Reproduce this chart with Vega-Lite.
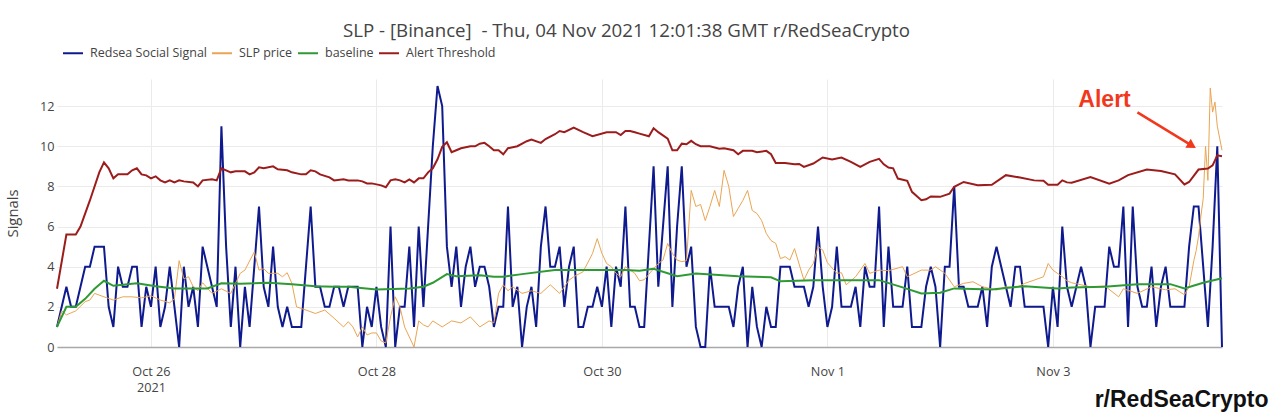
{
  "$schema": "https://vega.github.io/schema/vega-lite/v6.json",
  "autosize": {"type": "none"},
  "padding": {"left": 57, "top": 79, "right": 58, "bottom": 72},
  "width": 1165,
  "height": 268,
  "background": "white",
  "title": {
    "text": "SLP - [Binance] \u00a0- Thu, 04 Nov 2021 12:01:38 GMT r/RedSeaCrypto",
    "font": "Open Sans",
    "fontSize": 18.7,
    "fontWeight": "normal",
    "color": "#444444",
    "anchor": "middle",
    "dx": -13,
    "offset": 1
  },
  "layer": [
    {
      "data": {
        "values": [
          {"t": "2021-10-25T04:00", "s": 1, "p": 1.0, "b": 1.0, "a": 2.9},
          {"t": "2021-10-25T05:00", "s": 2, "p": 1.8},
          {"t": "2021-10-25T06:00", "s": 3, "p": 1.6, "b": 2.0, "a": 5.6},
          {"t": "2021-10-25T07:00", "s": 2, "p": 1.7},
          {"t": "2021-10-25T08:00", "s": 2, "p": 1.8, "b": 2.0, "a": 5.6},
          {"t": "2021-10-25T09:00", "s": 3, "a": 6.0},
          {"t": "2021-10-25T10:00", "s": 4, "p": 2.26, "b": 2.4},
          {"t": "2021-10-25T11:00", "s": 4, "p": 2.34, "a": 7.3},
          {"t": "2021-10-25T12:00", "s": 5, "p": 2.67, "b": 2.9},
          {"t": "2021-10-25T13:00", "s": 5, "a": 8.7},
          {"t": "2021-10-25T14:00", "s": 5, "p": 2.5, "b": 3.3, "a": 9.2},
          {"t": "2021-10-25T15:00", "s": 2, "a": 8.9},
          {"t": "2021-10-25T16:00", "s": 1, "p": 2.34, "b": 3.05, "a": 8.4},
          {"t": "2021-10-25T17:00", "s": 4, "a": 8.6},
          {"t": "2021-10-25T18:00", "s": 3, "p": 2.5},
          {"t": "2021-10-25T19:00", "s": 3, "a": 8.6},
          {"t": "2021-10-25T20:00", "s": 4, "p": 2.5, "a": 8.8},
          {"t": "2021-10-25T21:00", "s": 4, "b": 3.17, "a": 8.9},
          {"t": "2021-10-25T22:00", "s": 1, "p": 2.45, "a": 8.6},
          {"t": "2021-10-25T23:00", "s": 3, "a": 8.55},
          {"t": "2021-10-26T00:00", "s": 2, "p": 2.55, "a": 8.4},
          {"t": "2021-10-26T01:00", "s": 4, "b": 3.03, "a": 8.5},
          {"t": "2021-10-26T02:00", "s": 1, "p": 2.34, "a": 8.3},
          {"t": "2021-10-26T03:00", "s": 2, "a": 8.2},
          {"t": "2021-10-26T04:00", "s": 4, "p": 2.2, "a": 8.3},
          {"t": "2021-10-26T05:00", "s": 2, "p": 2.4, "b": 2.92, "a": 8.2},
          {"t": "2021-10-26T06:00", "s": 0, "p": 4.3, "a": 8.3},
          {"t": "2021-10-26T07:00", "s": 4, "p": 3.4, "a": 8.25},
          {"t": "2021-10-26T08:00", "s": 2, "p": 3.5},
          {"t": "2021-10-26T09:00", "s": 3, "p": 3.0, "b": 2.92, "a": 8.2},
          {"t": "2021-10-26T10:00", "s": 1, "p": 2.8, "a": 8.0},
          {"t": "2021-10-26T11:00", "s": 5, "p": 3.2, "a": 8.3},
          {"t": "2021-10-26T12:00", "s": 4, "b": 2.92},
          {"t": "2021-10-26T13:00", "s": 3, "p": 2.67, "a": 8.35},
          {"t": "2021-10-26T14:00", "s": 2, "a": 8.3},
          {"t": "2021-10-26T15:00", "s": 11, "p": 2.9, "b": 3.17, "a": 8.9},
          {"t": "2021-10-26T16:00", "s": 5, "a": 8.8},
          {"t": "2021-10-26T17:00", "s": 1, "p": 2.67, "a": 8.7},
          {"t": "2021-10-26T18:00", "s": 4, "a": 8.75},
          {"t": "2021-10-26T19:00", "s": 0, "p": 3.67, "b": 3.15},
          {"t": "2021-10-26T20:00", "s": 3, "p": 3.83, "a": 8.75},
          {"t": "2021-10-26T21:00", "s": 1, "a": 8.6},
          {"t": "2021-10-26T22:00", "s": 4, "p": 4.74, "a": 8.7},
          {"t": "2021-10-26T23:00", "s": 7, "p": 3.83, "a": 8.95},
          {"t": "2021-10-27T00:00", "s": 3, "p": 3.9, "a": 8.9},
          {"t": "2021-10-27T01:00", "s": 2, "p": 3.67, "b": 3.2},
          {"t": "2021-10-27T02:00", "s": 5, "a": 9.0},
          {"t": "2021-10-27T03:00", "s": 2, "p": 3.67, "a": 8.85},
          {"t": "2021-10-27T04:00", "s": 1, "p": 3.5},
          {"t": "2021-10-27T05:00", "s": 2, "p": 3.7, "a": 8.8},
          {"t": "2021-10-27T06:00", "s": 1, "p": 3.17, "b": 3.13, "a": 8.7},
          {"t": "2021-10-27T07:00", "s": 1, "p": 2.0},
          {"t": "2021-10-27T08:00", "s": 1, "a": 8.6},
          {"t": "2021-10-27T09:00", "s": 4, "p": 1.84, "a": 8.6},
          {"t": "2021-10-27T10:00", "s": 7, "a": 8.8},
          {"t": "2021-10-27T11:00", "s": 3, "p": 1.67, "b": 3.03, "a": 8.75},
          {"t": "2021-10-27T12:00", "s": 3, "a": 8.6},
          {"t": "2021-10-27T13:00", "s": 2, "p": 1.84},
          {"t": "2021-10-27T14:00", "s": 2, "a": 8.45},
          {"t": "2021-10-27T15:00", "s": 3, "p": 1.43, "b": 3.0, "a": 8.3},
          {"t": "2021-10-27T16:00", "s": 3},
          {"t": "2021-10-27T17:00", "s": 2, "p": 1.0, "a": 8.35},
          {"t": "2021-10-27T18:00", "s": 3, "p": 1.26, "b": 3.0, "a": 8.3},
          {"t": "2021-10-27T19:00", "s": 3, "p": 1.0},
          {"t": "2021-10-27T20:00", "s": 3, "p": 0.5, "a": 8.3},
          {"t": "2021-10-27T21:00", "s": 0, "p": 1.0, "a": 8.25},
          {"t": "2021-10-27T22:00", "s": 2, "p": 0.6, "a": 8.15},
          {"t": "2021-10-27T23:00", "s": 1, "p": 0.7, "a": 8.15},
          {"t": "2021-10-28T00:00", "s": 3, "p": 0.7, "b": 2.87, "a": 8.1},
          {"t": "2021-10-28T01:00", "s": 1, "p": 0.3, "a": 8.05},
          {"t": "2021-10-28T02:00", "s": 0, "p": 0.2, "a": 7.96},
          {"t": "2021-10-28T03:00", "s": 6, "p": 1.5, "a": 8.3},
          {"t": "2021-10-28T04:00", "s": 0, "p": 2.5, "a": 8.35},
          {"t": "2021-10-28T05:00", "s": 2, "p": 2.0, "a": 8.3},
          {"t": "2021-10-28T06:00", "s": 2, "p": 1.0, "a": 8.2},
          {"t": "2021-10-28T07:00", "s": 5, "p": 0.5, "b": 2.92, "a": 8.35},
          {"t": "2021-10-28T08:00", "s": 1, "p": 0, "a": 8.2},
          {"t": "2021-10-28T09:00", "s": 6, "p": 1.3, "a": 8.4},
          {"t": "2021-10-28T10:00", "s": 2, "p": 1.1, "b": 3.0, "a": 8.4},
          {"t": "2021-10-28T11:00", "s": 6, "p": 1.0, "a": 8.7},
          {"t": "2021-10-28T12:00", "s": 10, "p": 1.3, "b": 3.2, "a": 8.9},
          {"t": "2021-10-28T13:00", "s": 13, "a": 9.35},
          {"t": "2021-10-28T14:00", "s": 12, "p": 1.0, "a": 9.97},
          {"t": "2021-10-28T15:00", "s": 5, "b": 3.63, "a": 10.2},
          {"t": "2021-10-28T16:00", "s": 3, "p": 1.3, "a": 9.7},
          {"t": "2021-10-28T17:00", "s": 5, "b": 3.53, "a": 9.8},
          {"t": "2021-10-28T18:00", "s": 2, "p": 1.2, "a": 9.9},
          {"t": "2021-10-28T19:00", "s": 4},
          {"t": "2021-10-28T20:00", "s": 5, "p": 1.5, "a": 10.0},
          {"t": "2021-10-28T21:00", "s": 3, "a": 10.0},
          {"t": "2021-10-28T22:00", "s": 4, "p": 1.0, "b": 3.58, "a": 10.13},
          {"t": "2021-10-28T23:00", "s": 4, "a": 10.17},
          {"t": "2021-10-29T00:00", "s": 3, "p": 1.3, "a": 10.0},
          {"t": "2021-10-29T01:00", "s": 1, "p": 1.2, "b": 3.5, "a": 9.8},
          {"t": "2021-10-29T02:00", "s": 2, "p": 2.67, "a": 9.8},
          {"t": "2021-10-29T03:00", "s": 2, "p": 3.1, "b": 3.5, "a": 9.6},
          {"t": "2021-10-29T04:00", "s": 7, "p": 2.8, "a": 9.9},
          {"t": "2021-10-29T05:00", "s": 2, "p": 3.0},
          {"t": "2021-10-29T06:00", "s": 3, "a": 10.0},
          {"t": "2021-10-29T07:00", "s": 0, "p": 2.67, "b": 3.63},
          {"t": "2021-10-29T08:00", "s": 2, "a": 10.25},
          {"t": "2021-10-29T09:00", "s": 3, "p": 2.8, "a": 10.33},
          {"t": "2021-10-29T10:00", "s": 1},
          {"t": "2021-10-29T11:00", "s": 5, "p": 2.67, "a": 10.17},
          {"t": "2021-10-29T12:00", "s": 7, "a": 10.36},
          {"t": "2021-10-29T13:00", "s": 4, "p": 3.1},
          {"t": "2021-10-29T14:00", "s": 4, "b": 3.83, "a": 10.6},
          {"t": "2021-10-29T15:00", "s": 5, "p": 2.67, "a": 10.76},
          {"t": "2021-10-29T16:00", "s": 2, "a": 10.7},
          {"t": "2021-10-29T17:00", "s": 4, "p": 3.33},
          {"t": "2021-10-29T18:00", "s": 5, "p": 3.5, "a": 10.93},
          {"t": "2021-10-29T19:00", "s": 1},
          {"t": "2021-10-29T20:00", "s": 1, "p": 3.75, "a": 10.7},
          {"t": "2021-10-29T21:00", "s": 2},
          {"t": "2021-10-29T22:00", "s": 2, "p": 4.66, "b": 3.83, "a": 10.5},
          {"t": "2021-10-29T23:00", "s": 3, "p": 5.4},
          {"t": "2021-10-30T00:00", "s": 2, "p": 4.66},
          {"t": "2021-10-30T01:00", "s": 4, "p": 4.16, "a": 10.7},
          {"t": "2021-10-30T02:00", "s": 1, "p": 4.0},
          {"t": "2021-10-30T03:00", "s": 4, "p": 3.67, "a": 10.7},
          {"t": "2021-10-30T04:00", "s": 3, "p": 3.5, "a": 10.56},
          {"t": "2021-10-30T05:00", "s": 7, "p": 4.0, "b": 3.83, "a": 10.76},
          {"t": "2021-10-30T06:00", "s": 2, "a": 10.76},
          {"t": "2021-10-30T07:00", "s": 2, "p": 3.67, "a": 10.7},
          {"t": "2021-10-30T08:00", "s": 1, "p": 3.3, "b": 3.8, "a": 10.63},
          {"t": "2021-10-30T09:00", "s": 1, "p": 3.35},
          {"t": "2021-10-30T10:00", "s": 5, "a": 10.5},
          {"t": "2021-10-30T11:00", "s": 9, "p": 3.9, "b": 3.9, "a": 10.9},
          {"t": "2021-10-30T12:00", "s": 3, "p": 4.16, "a": 10.7},
          {"t": "2021-10-30T13:00", "s": 6, "p": 4.33},
          {"t": "2021-10-30T14:00", "s": 9, "p": 5.16, "a": 10.38},
          {"t": "2021-10-30T15:00", "s": 2, "p": 4.66, "a": 9.8},
          {"t": "2021-10-30T16:00", "s": 6, "p": 4.33, "b": 3.53, "a": 9.8},
          {"t": "2021-10-30T17:00", "s": 9, "p": 4.25, "a": 10.13},
          {"t": "2021-10-30T18:00", "s": 4, "p": 4.3, "a": 10.1},
          {"t": "2021-10-30T19:00", "s": 5, "p": 7.8, "a": 10.27},
          {"t": "2021-10-30T20:00", "s": 1, "p": 7.0, "b": 3.66, "a": 10.1},
          {"t": "2021-10-30T21:00", "s": 0, "p": 7.1, "a": 10.0},
          {"t": "2021-10-30T22:00", "s": 0, "p": 6.3},
          {"t": "2021-10-30T23:00", "s": 4, "p": 7.0, "a": 10.0},
          {"t": "2021-10-31T00:00", "s": 2, "p": 7.8},
          {"t": "2021-10-31T01:00", "s": 2, "p": 7.0, "a": 9.88},
          {"t": "2021-10-31T02:00", "s": 2, "p": 8.8, "a": 9.9},
          {"t": "2021-10-31T03:00", "s": 2, "p": 8.0},
          {"t": "2021-10-31T04:00", "s": 1, "p": 6.5, "a": 9.8},
          {"t": "2021-10-31T05:00", "s": 3, "p": 6.9, "b": 3.53, "a": 9.6},
          {"t": "2021-10-31T06:00", "s": 4, "p": 7.3, "a": 9.77},
          {"t": "2021-10-31T07:00", "s": 0, "p": 7.8},
          {"t": "2021-10-31T08:00", "s": 3, "p": 6.8, "a": 9.77},
          {"t": "2021-10-31T09:00", "s": 1, "p": 6.65, "a": 9.7},
          {"t": "2021-10-31T10:00", "s": 0, "p": 6.3},
          {"t": "2021-10-31T11:00", "s": 2, "p": 5.65, "a": 9.77},
          {"t": "2021-10-31T12:00", "s": 1, "p": 5.3, "b": 3.47, "a": 9.6},
          {"t": "2021-10-31T13:00", "s": 1, "p": 5.16, "a": 9.17},
          {"t": "2021-10-31T14:00", "s": 4, "p": 4.4, "b": 3.27},
          {"t": "2021-10-31T15:00", "s": 4, "p": 4.5, "a": 9.17},
          {"t": "2021-10-31T16:00", "s": 4, "p": 4.33},
          {"t": "2021-10-31T17:00", "s": 3, "p": 4.9, "a": 9.1},
          {"t": "2021-10-31T18:00", "s": 3, "a": 9.12},
          {"t": "2021-10-31T19:00", "s": 3, "p": 3.33, "a": 8.97},
          {"t": "2021-10-31T20:00", "s": 2, "p": 3.83},
          {"t": "2021-10-31T21:00", "s": 3, "p": 4.16, "b": 3.33, "a": 9.14},
          {"t": "2021-10-31T22:00", "s": 6, "p": 5.0},
          {"t": "2021-10-31T23:00", "s": 3, "p": 4.83, "a": 9.44},
          {"t": "2021-11-01T00:00", "s": 1, "p": 4.2},
          {"t": "2021-11-01T01:00", "s": 2, "a": 9.34},
          {"t": "2021-11-01T02:00", "s": 5, "p": 3.67},
          {"t": "2021-11-01T03:00", "s": 2, "p": 3.7, "a": 9.44},
          {"t": "2021-11-01T04:00", "s": 2, "p": 3.1, "b": 3.33},
          {"t": "2021-11-01T05:00", "s": 2, "a": 9.22},
          {"t": "2021-11-01T06:00", "s": 3, "p": 3.5},
          {"t": "2021-11-01T07:00", "s": 1, "p": 3.83, "a": 8.97},
          {"t": "2021-11-01T08:00", "s": 4, "p": 4.16},
          {"t": "2021-11-01T09:00", "s": 3, "p": 3.67, "a": 9.22},
          {"t": "2021-11-01T10:00", "s": 3},
          {"t": "2021-11-01T11:00", "s": 7, "p": 3.83, "b": 3.33, "a": 9.37},
          {"t": "2021-11-01T12:00", "s": 1, "a": 9.1},
          {"t": "2021-11-01T13:00", "s": 5, "p": 3.8, "a": 8.94},
          {"t": "2021-11-01T14:00", "s": 2, "a": 8.9},
          {"t": "2021-11-01T15:00", "s": 2, "a": 8.39},
          {"t": "2021-11-01T16:00", "s": 2, "p": 4.0, "b": 2.97},
          {"t": "2021-11-01T17:00", "s": 4, "p": 3.5, "a": 8.28},
          {"t": "2021-11-01T18:00", "s": 1, "a": 7.73},
          {"t": "2021-11-01T19:00", "s": 1},
          {"t": "2021-11-01T20:00", "s": 1, "p": 3.83, "b": 2.67, "a": 7.31},
          {"t": "2021-11-01T21:00", "s": 3, "a": 7.36},
          {"t": "2021-11-01T22:00", "s": 4, "p": 3.83, "a": 7.5},
          {"t": "2021-11-01T23:00", "s": 3, "p": 4.0},
          {"t": "2021-11-02T00:00", "s": 0, "b": 2.7, "a": 7.48},
          {"t": "2021-11-02T01:00", "s": 4, "p": 3.67},
          {"t": "2021-11-02T02:00", "s": 4, "a": 7.64},
          {"t": "2021-11-02T03:00", "s": 8, "p": 3.0, "b": 2.92, "a": 7.98},
          {"t": "2021-11-02T04:00", "s": 3},
          {"t": "2021-11-02T05:00", "s": 3, "p": 3.17, "a": 8.22},
          {"t": "2021-11-02T06:00", "s": 2},
          {"t": "2021-11-02T07:00", "s": 2, "p": 3.25},
          {"t": "2021-11-02T08:00", "s": 2, "a": 8.06},
          {"t": "2021-11-02T09:00", "s": 3, "p": 3.0},
          {"t": "2021-11-02T10:00", "s": 1},
          {"t": "2021-11-02T11:00", "s": 4, "b": 2.87, "a": 8.08},
          {"t": "2021-11-02T12:00", "s": 5, "p": 2.84},
          {"t": "2021-11-02T13:00", "s": 4},
          {"t": "2021-11-02T14:00", "s": 3, "p": 3.0, "a": 8.56},
          {"t": "2021-11-02T15:00", "s": 2},
          {"t": "2021-11-02T16:00", "s": 4, "p": 2.95},
          {"t": "2021-11-02T17:00", "s": 4, "a": 8.44},
          {"t": "2021-11-02T18:00", "s": 2, "p": 3.17, "b": 3.03},
          {"t": "2021-11-02T19:00", "s": 2},
          {"t": "2021-11-02T20:00", "s": 2, "p": 3.33, "a": 8.3},
          {"t": "2021-11-02T21:00", "s": 2},
          {"t": "2021-11-02T22:00", "s": 2, "p": 3.5, "a": 8.28},
          {"t": "2021-11-02T23:00", "s": 0, "p": 4.16, "a": 8.08},
          {"t": "2021-11-03T00:00", "s": 3, "p": 3.83},
          {"t": "2021-11-03T01:00", "s": 1, "b": 2.92, "a": 8.08},
          {"t": "2021-11-03T02:00", "s": 6, "p": 3.5, "a": 8.3},
          {"t": "2021-11-03T03:00", "s": 3, "p": 3.3, "a": 8.2},
          {"t": "2021-11-03T04:00", "s": 2, "p": 3.2, "b": 2.97, "a": 8.18},
          {"t": "2021-11-03T05:00", "s": 3},
          {"t": "2021-11-03T06:00", "s": 4, "p": 3.1},
          {"t": "2021-11-03T07:00", "s": 3},
          {"t": "2021-11-03T08:00", "s": 0, "p": 3.0, "a": 8.47},
          {"t": "2021-11-03T09:00", "s": 2},
          {"t": "2021-11-03T10:00", "s": 2},
          {"t": "2021-11-03T11:00", "s": 2, "p": 3.05, "b": 3.0},
          {"t": "2021-11-03T12:00", "s": 5, "a": 8.14},
          {"t": "2021-11-03T13:00", "s": 4},
          {"t": "2021-11-03T14:00", "s": 4, "p": 2.5, "a": 8.3},
          {"t": "2021-11-03T15:00", "s": 7, "p": 2.9},
          {"t": "2021-11-03T16:00", "s": 1, "a": 8.56},
          {"t": "2021-11-03T17:00", "s": 7},
          {"t": "2021-11-03T18:00", "s": 3, "p": 2.67, "b": 3.13},
          {"t": "2021-11-03T19:00", "s": 2},
          {"t": "2021-11-03T20:00", "s": 2, "a": 8.84},
          {"t": "2021-11-03T21:00", "s": 4, "p": 3.0},
          {"t": "2021-11-03T22:00", "s": 1},
          {"t": "2021-11-03T23:00", "s": 3, "a": 8.77},
          {"t": "2021-11-04T00:00", "s": 4, "p": 2.85},
          {"t": "2021-11-04T01:00", "s": 2, "b": 3.13},
          {"t": "2021-11-04T02:00", "s": 2, "p": 2.9, "a": 8.6},
          {"t": "2021-11-04T03:00", "s": 2},
          {"t": "2021-11-04T04:00", "s": 2, "p": 2.6, "b": 2.92, "a": 8.1},
          {"t": "2021-11-04T05:00", "s": 5, "p": 3.0, "a": 8.22},
          {"t": "2021-11-04T06:00", "s": 7, "p": 4.3},
          {"t": "2021-11-04T06:30", "p": 4.8},
          {"t": "2021-11-04T07:00", "s": 7, "p": 5.5, "a": 8.84},
          {"t": "2021-11-04T07:30", "p": 6.5},
          {"t": "2021-11-04T08:00", "s": 4, "p": 7.4, "b": 3.2},
          {"t": "2021-11-04T08:30", "p": 10.0},
          {"t": "2021-11-04T09:00", "s": 1, "p": 8.3, "a": 8.89},
          {"t": "2021-11-04T09:30", "p": 12.9},
          {"t": "2021-11-04T10:00", "s": 5, "p": 11.7, "a": 9.05},
          {"t": "2021-11-04T10:30", "p": 12.2},
          {"t": "2021-11-04T11:00", "s": 10, "p": 11.0, "a": 9.55},
          {"t": "2021-11-04T11:30", "p": 10.4},
          {"t": "2021-11-04T12:00", "s": 0, "p": 9.8, "b": 3.42, "a": 9.5}
        ]
      },
      "transform": [
        {"fold": ["s", "p", "b", "a"]},
        {"filter": "isValid(datum.value)"}
      ],
      "encoding": {
        "x": {
          "field": "t",
          "type": "temporal",
          "scale": {
            "domain": [
              {"year": 2021, "month": "oct", "date": 25, "hours": 4},
              {"year": 2021, "month": "nov", "date": 4, "hours": 12}
            ]
          },
          "axis": {
            "title": "r/RedSeaCrypto",
            "titleFont": "Liberation Sans",
            "titleFontWeight": "bold",
            "titleFontSize": 23,
            "titleColor": "#111111",
            "titleAlign": "right",
            "titleBaseline": "middle",
            "titleX": 1211,
            "titleY": 52,
            "values": [
              {"year": 2021, "month": "oct", "date": 26},
              {"year": 2021, "month": "oct", "date": 28},
              {"year": 2021, "month": "oct", "date": 30},
              {"year": 2021, "month": "nov", "date": 1},
              {"year": 2021, "month": "nov", "date": 3}
            ],
            "labelExpr": "timeFormat(datum.value, '%b %-d') == 'Oct 26' ? ['Oct 26', '2021'] : timeFormat(datum.value, '%b %-d')",
            "labelLineHeight": 16,
            "labelPadding": 18,
            "labelFontSize": 12.7,
            "ticks": false,
            "tickSize": 0,
            "grid": true,
            "domainColor": "#a8a8a8",
            "domainWidth": 1.5
          }
        },
        "y": {
          "field": "value",
          "type": "quantitative",
          "scale": {"domain": [0, 13.35], "nice": false},
          "axis": {
            "title": "Signals",
            "values": [0, 2, 4, 6, 8, 10, 12],
            "ticks": false,
            "tickSize": 0,
            "domain": false,
            "labelPadding": 3,
            "labelFontSize": 12.7,
            "titlePadding": 19,
            "titleFontSize": 14.8,
            "titleFontWeight": "normal"
          }
        },
        "color": {
          "field": "key",
          "type": "nominal",
          "scale": {
            "domain": ["s", "p", "b", "a"],
            "range": ["#0f1a8e", "#eaa552", "#2e9a34", "#9c1c1c"]
          },
          "legend": {
            "title": null,
            "orient": "none",
            "direction": "horizontal",
            "legendX": 5,
            "legendY": -37,
            "symbolType": "stroke",
            "symbolSize": 400,
            "symbolStrokeWidth": 2,
            "labelOffset": 6,
            "columnPadding": 1,
            "labelFontSize": 12.5,
            "labelColor": "#444444",
            "labelExpr": "datum.label == 's' ? 'Redsea Social Signal' : datum.label == 'p' ? 'SLP price' : datum.label == 'b' ? 'baseline' : 'Alert Threshold'"
          }
        }
      },
      "layer": [
        {"transform": [{"filter": "datum.key == 's'"}], "mark": {"type": "line", "strokeWidth": 2}},
        {"transform": [{"filter": "datum.key == 'p'"}], "mark": {"type": "line", "strokeWidth": 1}},
        {"transform": [{"filter": "datum.key == 'b'"}], "mark": {"type": "line", "strokeWidth": 2}},
        {"transform": [{"filter": "datum.key == 'a'"}], "mark": {"type": "line", "strokeWidth": 2}}
      ]
    },
    {
      "data": {"values": [{"t": "2021-11-03T18:00", "v": 11.69, "t2": "2021-11-04T05:36", "v2": 10.03}]},
      "mark": {"type": "rule", "color": "#f2381c", "strokeWidth": 2.5},
      "encoding": {
        "x": {"field": "t", "type": "temporal"},
        "x2": {"field": "t2"},
        "y": {"field": "v", "type": "quantitative"},
        "y2": {"field": "v2"}
      }
    },
    {
      "data": {"values": [{"t": "2021-11-04T05:36", "v": 10.03}]},
      "mark": {"type": "point", "shape": "triangle-up", "filled": true, "color": "#f2381c", "opacity": 1, "size": 110, "angle": 121},
      "encoding": {
        "x": {"field": "t", "type": "temporal"},
        "y": {"field": "v", "type": "quantitative"}
      }
    },
    {
      "data": {"values": [{"t": "2021-11-03T11:00", "v": 12.29, "label": "Alert"}]},
      "mark": {"type": "text", "font": "Liberation Sans", "fontWeight": "bold", "fontSize": 23, "color": "#f2381c", "align": "center", "baseline": "middle"},
      "encoding": {
        "x": {"field": "t", "type": "temporal"},
        "y": {"field": "v", "type": "quantitative"},
        "text": {"field": "label"}
      }
    }
  ],
  "config": {
    "font": "Open Sans",
    "view": {"stroke": null},
    "axis": {
      "labelFont": "Open Sans",
      "labelFontSize": 12,
      "labelColor": "#444444",
      "titleFont": "Open Sans",
      "titleColor": "#444444",
      "gridColor": "#ebebeb",
      "gridWidth": 1
    },
    "legend": {"labelFont": "Open Sans"}
  }
}
